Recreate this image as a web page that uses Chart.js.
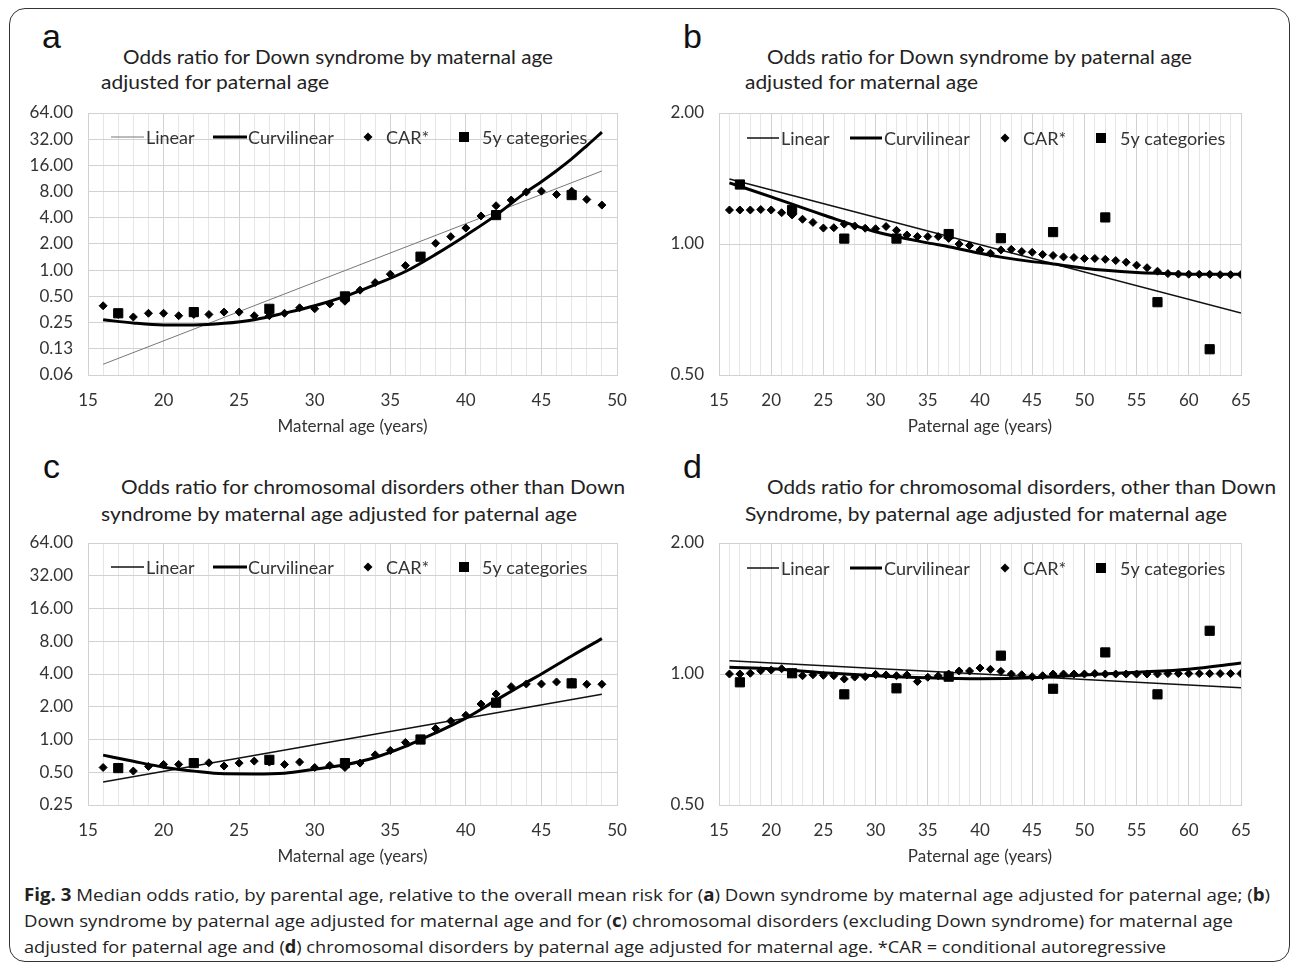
<!DOCTYPE html>
<html>
<head>
<meta charset="utf-8">
<script src="https://cdn.jsdelivr.net/npm/chart.js@4.4.1/dist/chart.umd.min.js"></script>
<style>
  body { margin: 0; background: #fff; }
  #fig { position: relative; width: 1292px; height: 964px; overflow: hidden; font-family: Lato, sans-serif; color: #222; }
  #frame { position: absolute; left: 9px; top: 8px; width: 1281px; height: 954px; border: 1.5px solid #333; border-radius: 16px; box-sizing: border-box; }
  canvas { position: absolute; }
  .t { position: absolute; white-space: nowrap; font-size: 19px; line-height: 24px; transform-origin: 0 50%; }
  .letter { position: absolute; font-family: 'Liberation Sans', Arial, sans-serif; font-size: 34px; line-height: 38px; color: #111; }
  .cap { position: absolute; white-space: nowrap; font-family: 'Open Sans', sans-serif; font-size: 17px; line-height: 22px; color: #222; transform-origin: 0 50%; }
</style>
</head>
<body>
<div id="fig">
  <div id="frame"></div>

  <div class="letter" style="left:42px; top:17px">a</div>
  <div class="t" style="left:123px; top:45px" data-w="430">Odds ratio for Down syndrome by maternal age</div>
  <div class="t" style="left:101px; top:70px" data-w="228">adjusted for paternal age</div>

  <div class="letter" style="left:683px; top:17px">b</div>
  <div class="t" style="left:767px; top:45px" data-w="425">Odds ratio for Down syndrome by paternal age</div>
  <div class="t" style="left:745px; top:70px" data-w="233">adjusted for maternal age</div>

  <div class="letter" style="left:43px; top:447px">c</div>
  <div class="t" style="left:121px; top:475px" data-w="504">Odds ratio for chromosomal disorders other than Down</div>
  <div class="t" style="left:101px; top:502px" data-w="476">syndrome by maternal age adjusted for paternal age</div>

  <div class="letter" style="left:683px; top:447px">d</div>
  <div class="t" style="left:767px; top:475px" data-w="509">Odds ratio for chromosomal disorders, other than Down</div>
  <div class="t" style="left:745px; top:502px" data-w="482">Syndrome, by paternal age adjusted for maternal age</div>

  <canvas id="chartA" width="640" height="350" style="left:0px; top:95px; width:640px; height:350px"></canvas>
  <canvas id="chartB" width="652" height="350" style="left:640px; top:95px; width:652px; height:350px"></canvas>
  <canvas id="chartC" width="640" height="350" style="left:0px; top:525px; width:640px; height:350px"></canvas>
  <canvas id="chartD" width="652" height="350" style="left:640px; top:525px; width:652px; height:350px"></canvas>

  <div class="cap" style="left:24px; top:884px" data-w="1246"><b>Fig. 3</b> Median odds ratio, by parental age, relative to the overall mean risk for (<b>a</b>) Down syndrome by maternal age adjusted for paternal age; (<b>b</b>)</div>
  <div class="cap" style="left:24px; top:910px" data-w="1209">Down syndrome by paternal age adjusted for maternal age and for (<b>c</b>) chromosomal disorders (excluding Down syndrome) for maternal age</div>
  <div class="cap" style="left:24px; top:936px" data-w="1142">adjusted for paternal age and (<b>d</b>) chromosomal disorders by paternal age adjusted for maternal age. *CAR = conditional autoregressive</div>
</div>

<script>
// --- ages ---
const maternalAges = [16, 17, 18, 19, 20, 21, 22, 23, 24, 25, 26, 27, 28, 29, 30, 31, 32,
    33, 34, 35, 36, 37, 38, 39, 40, 41, 42, 43, 44, 45, 46, 47, 48, 49];
const paternalAges = [16, 17, 18, 19, 20, 21, 22, 23, 24, 25, 26, 27, 28, 29, 30, 31, 32,
    33, 34, 35, 36, 37, 38, 39, 40, 41, 42, 43, 44, 45, 46, 47, 48, 49, 50, 51, 52, 53,
    54, 55, 56, 57, 58, 59, 60, 61, 62, 63, 64, 65];
const catMaternalAges = [17, 22, 27, 32, 37, 42, 47];
const catPaternalAges = [17, 22, 27, 32, 37, 42, 47, 52, 57, 62];

// --- tick labels ---
const xLabelsMaternal = ['15', '20', '25', '30', '35', '40', '45', '50'];
const xLabelsPaternal = ['15', '20', '25', '30', '35', '40', '45', '50', '55', '60', '65'];
const yTicksA = [0.0625, 0.125, 0.25, 0.5, 1, 2, 4, 8, 16, 32, 64];
const yLabelsA = ['0.06', '0.13', '0.25', '0.50', '1.00', '2.00', '4.00', '8.00', '16.00', '32.00', '64.00'];
const yTicksC = [0.25, 0.5, 1, 2, 4, 8, 16, 32, 64];
const yLabelsC = ['0.25', '0.50', '1.00', '2.00', '4.00', '8.00', '16.00', '32.00', '64.00'];
const yTicksPat = [0.5, 1, 2];
const yLabelsPat = ['0.50', '1.00', '2.00'];

// --- panel a: Down syndrome by maternal age ---
const carA = [0.39, 0.31, 0.29, 0.32, 0.32, 0.30, 0.31, 0.31, 0.33, 0.33, 0.30, 0.30, 0.32,
    0.37, 0.36, 0.41, 0.44, 0.59, 0.72, 0.90, 1.13, 1.45, 2.04, 2.43, 3.05, 4.2, 5.5, 6.4,
    7.9, 8.1, 7.4, 8.1, 6.5, 5.6];
const catA = [0.32, 0.33, 0.36, 0.50, 1.43, 4.3, 7.3];
const linAgesA = [16, 49];
const linA = [0.083, 13.8];
const curveAgesA = [16, 18, 20, 22, 24, 26, 28, 30, 32, 34, 36, 38, 40, 42, 44, 45, 46, 47, 48, 49];
const curveA = [0.27, 0.247, 0.235, 0.235, 0.245, 0.27, 0.321, 0.39, 0.50, 0.683, 0.966, 1.52,
    2.51, 4.29, 7.94, 10.4, 13.9, 19.0, 26.9, 38.5];

// --- panel b: Down syndrome by paternal age ---
const carB = [1.197, 1.197, 1.197, 1.20, 1.197, 1.18, 1.166, 1.14, 1.121, 1.088, 1.09, 1.111,
    1.10, 1.087, 1.084, 1.097, 1.075, 1.049, 1.04, 1.04, 1.04, 1.03, 1.0, 0.992, 0.969, 0.952,
    0.969, 0.972, 0.961, 0.957, 0.946, 0.941, 0.934, 0.931, 0.926, 0.926, 0.922, 0.916, 0.908,
    0.894, 0.882, 0.866, 0.855, 0.853, 0.852, 0.852, 0.852, 0.85, 0.85, 0.851];
const catB = [1.37, 1.197, 1.029, 1.029, 1.054, 1.031, 1.065, 1.151, 0.735, 0.573];
const linAgesB = [16, 65];
const linB = [1.41, 0.694];
const curveAgesB = [16, 20, 25, 30, 35, 37, 40, 42, 45, 47, 50, 52, 55, 58, 60, 65];
const curveB = [1.382, 1.283, 1.166, 1.067, 1.006, 0.986, 0.952, 0.933, 0.911, 0.90, 0.88,
    0.87, 0.86, 0.855, 0.852, 0.852];

// --- panel c: other chromosomal disorders by maternal age ---
const carC = [0.553, 0.55, 0.513, 0.566, 0.59, 0.59, 0.60, 0.611, 0.57, 0.607, 0.633, 0.62,
    0.59, 0.62, 0.553, 0.578, 0.553, 0.607, 0.723, 0.793, 0.94, 1.0, 1.26, 1.48, 1.67, 2.12,
    2.62, 3.06, 3.24, 3.24, 3.38, 3.38, 3.22, 3.22];
const catC = [0.546, 0.607, 0.65, 0.607, 1.0, 2.18, 3.28];
const linAgesC = [16, 49];
const linC = [0.406, 2.60];
const curveAgesC = [16, 18, 20, 22, 24, 26, 28, 30, 32, 34, 36, 37, 38, 40, 42, 44, 45, 47, 49];
const curveC = [0.718, 0.63, 0.557, 0.512, 0.484, 0.483, 0.49, 0.534, 0.586, 0.684, 0.863,
    1.0, 1.15, 1.57, 2.30, 3.34, 4.0, 5.86, 8.45];

// --- panel d: other chromosomal disorders by paternal age ---
const carD = [1.0, 1.0, 1.004, 1.018, 1.021, 1.028, 1.0, 0.991, 0.996, 0.993, 0.991, 0.974,
    0.984, 0.986, 0.998, 0.995, 0.991, 0.995, 0.961, 0.983, 0.99, 1.0, 1.016, 1.016, 1.032,
    1.025, 1.014, 1.0, 0.996, 0.986, 0.991, 1.0, 1.0, 1.0, 1.0, 1.002, 1.0, 1.0, 1.0, 1.0,
    1.0, 1.0, 1.002, 1.002, 1.002, 1.002, 1.002, 1.002, 1.002, 1.002];
const catD = [0.957, 1.004, 0.898, 0.927, 0.986, 1.102, 0.925, 1.121, 0.898, 1.257];
const linAgesD = [16, 65];
const linD = [1.073, 0.930];
const curveAgesD = [16, 20, 25, 30, 35, 40, 45, 50, 55, 60, 65];
const curveD = [1.036, 1.028, 1.007, 0.991, 0.98, 0.975, 0.98, 0.995, 1.009, 1.026, 1.06];

const seriesNames = ['Linear', 'Curvilinear', 'CAR*', '5y categories'];

const TEXT = '#333';
const tickFont = { family: 'Lato', size: 17 };

function pts(xs, ys) {
    return xs.map((x, i) => ({ x: x, y: ys[i] }));
}

// legend drawn inside the plot area, like the Excel original
const insideLegend = {
    id: 'insideLegend',
    afterDatasetsDraw(chart, args, opts) {
        const ctx = chart.ctx;
        const { left, top } = chart.chartArea;
        const y = top + opts.y;
        ctx.save();
        ctx.font = '18px Lato';
        ctx.textBaseline = 'middle';
        opts.items.forEach(item => {
            const ds = chart.data.datasets[item.ds];
            ctx.strokeStyle = ds.borderColor;
            ctx.fillStyle = '#000';
            if (item.kind === 'line') {
                ctx.lineWidth = ds.borderWidth;
                ctx.beginPath();
                ctx.moveTo(left + item.x0, y);
                ctx.lineTo(left + item.x1, y);
                ctx.stroke();
            } else if (item.kind === 'diamond') {
                const cx = left + item.x0, r = 4.5;
                ctx.beginPath();
                ctx.moveTo(cx - r, y); ctx.lineTo(cx, y - r);
                ctx.lineTo(cx + r, y); ctx.lineTo(cx, y + r);
                ctx.closePath();
                ctx.fill();
            } else {
                const cx = left + item.x0, h = 5;
                ctx.fillRect(cx - h, y - h, 2 * h, 2 * h);
            }
            ctx.fillStyle = TEXT;
            ctx.fillText(ds.label, left + item.tx, y + 1);
        });
        ctx.restore();
    }
};

const legendMaternal = { y: 24, items: [
    { ds: 3, kind: 'line', x0: 23, x1: 56, tx: 58 },
    { ds: 2, kind: 'line', x0: 125, x1: 159, tx: 160 },
    { ds: 1, kind: 'diamond', x0: 280, tx: 298 },
    { ds: 0, kind: 'square', x0: 376, tx: 394 }
] };
const legendPaternal = { y: 25, items: [
    { ds: 3, kind: 'line', x0: 28, x1: 60, tx: 62 },
    { ds: 2, kind: 'line', x0: 131, x1: 163, tx: 165 },
    { ds: 1, kind: 'diamond', x0: 286, tx: 304 },
    { ds: 0, kind: 'square', x0: 382, tx: 401 }
] };

function makePanel(id, p) {
    const ctx = document.getElementById(id).getContext('2d');
    return new Chart(ctx, {
        type: 'scatter',
        data: {
            datasets: [
                {
                    label: seriesNames[3],
                    data: pts(p.catAges, p.cat),
                    pointStyle: 'rect', pointRadius: 6.5, borderWidth: 1,
                    backgroundColor: '#000', borderColor: '#000'
                },
                {
                    label: seriesNames[2],
                    data: pts(p.ages, p.car),
                    pointStyle: 'rectRot', pointRadius: 4, borderWidth: 1,
                    backgroundColor: '#000', borderColor: '#000'
                },
                {
                    label: seriesNames[1],
                    data: pts(p.curveAges, p.curve),
                    showLine: true, pointRadius: 0, borderWidth: 3,
                    borderColor: '#000', cubicInterpolationMode: 'monotone'
                },
                {
                    label: seriesNames[0],
                    data: pts(p.linAges, p.lin),
                    showLine: true, pointRadius: 0, borderWidth: p.linWidth,
                    borderColor: p.linColor
                }
            ]
        },
        options: {
            responsive: false,
            animation: false,
            layout: { padding: { left: 0, right: p.padRight, top: 18, bottom: 0 } },
            plugins: {
                legend: { display: false },
                tooltip: { enabled: false },
                insideLegend: p.legend
            },
            scales: {
                x: {
                    type: 'linear',
                    min: p.xMin, max: p.xMax,
                    afterFit: s => { s.height = 70; s.paddingLeft = 0; s.paddingRight = 0; },
                    ticks: {
                        stepSize: 1, autoSkip: false, maxRotation: 0, padding: 15,
                        font: tickFont, color: TEXT,
                        callback: v => p.xLabels.includes(String(v)) ? String(v) : ''
                    },
                    grid: {
                        drawTicks: false,
                        color: c => (c.tick && c.tick.value % 5 === 0) ? '#d2d2d2' : '#e6e6e6'
                    },
                    border: { color: '#d2d2d2' },
                    title: {
                        display: true, text: p.xTitle, color: TEXT,
                        font: { family: 'Lato', size: 17 },
                        padding: { top: 0, bottom: 8 }
                    }
                },
                y: {
                    type: 'logarithmic',
                    min: p.yTicks[0], max: p.yTicks[p.yTicks.length - 1],
                    afterBuildTicks: s => { s.ticks = p.yTicks.map(v => ({ value: v })); },
                    afterFit: s => { s.width = p.yWidth; s.paddingTop = 0; s.paddingBottom = 0; },
                    ticks: {
                        padding: 15, font: tickFont, color: TEXT,
                        callback: v => p.yLabels[p.yTicks.indexOf(v)]
                    },
                    grid: { drawTicks: false, color: '#d2d2d2' },
                    border: { color: '#d2d2d2' }
                }
            }
        },
        plugins: [insideLegend]
    });
}

makePanel('chartA', {
    ages: maternalAges, car: carA, catAges: catMaternalAges, cat: catA,
    linAges: linAgesA, lin: linA, curveAges: curveAgesA, curve: curveA,
    linWidth: 1, linColor: '#777',
    xMin: 15, xMax: 50, xLabels: xLabelsMaternal, xTitle: 'Maternal age (years)',
    yTicks: yTicksA, yLabels: yLabelsA, yWidth: 88, padRight: 23, legend: legendMaternal
});
makePanel('chartB', {
    ages: paternalAges, car: carB, catAges: catPaternalAges, cat: catB,
    linAges: linAgesB, lin: linB, curveAges: curveAgesB, curve: curveB,
    linWidth: 1.5, linColor: '#111',
    xMin: 15, xMax: 65, xLabels: xLabelsPaternal, xTitle: 'Paternal age (years)',
    yTicks: yTicksPat, yLabels: yLabelsPat, yWidth: 79, padRight: 51, legend: legendPaternal
});
makePanel('chartC', {
    ages: maternalAges, car: carC, catAges: catMaternalAges, cat: catC,
    linAges: linAgesC, lin: linC, curveAges: curveAgesC, curve: curveC,
    linWidth: 1.5, linColor: '#111',
    xMin: 15, xMax: 50, xLabels: xLabelsMaternal, xTitle: 'Maternal age (years)',
    yTicks: yTicksC, yLabels: yLabelsC, yWidth: 88, padRight: 23, legend: legendMaternal
});
makePanel('chartD', {
    ages: paternalAges, car: carD, catAges: catPaternalAges, cat: catD,
    linAges: linAgesD, lin: linD, curveAges: curveAgesD, curve: curveD,
    linWidth: 1.5, linColor: '#111',
    xMin: 15, xMax: 65, xLabels: xLabelsPaternal, xTitle: 'Paternal age (years)',
    yTicks: yTicksPat, yLabels: yLabelsPat, yWidth: 79, padRight: 51, legend: legendPaternal
});

// stretch the text lines to the widths they take in the original
document.querySelectorAll('[data-w]').forEach(el => {
    const w = el.getBoundingClientRect().width;
    el.style.transform = 'scaleX(' + (Number(el.dataset.w) / w) + ')';
});
</script>
</body>
</html>
